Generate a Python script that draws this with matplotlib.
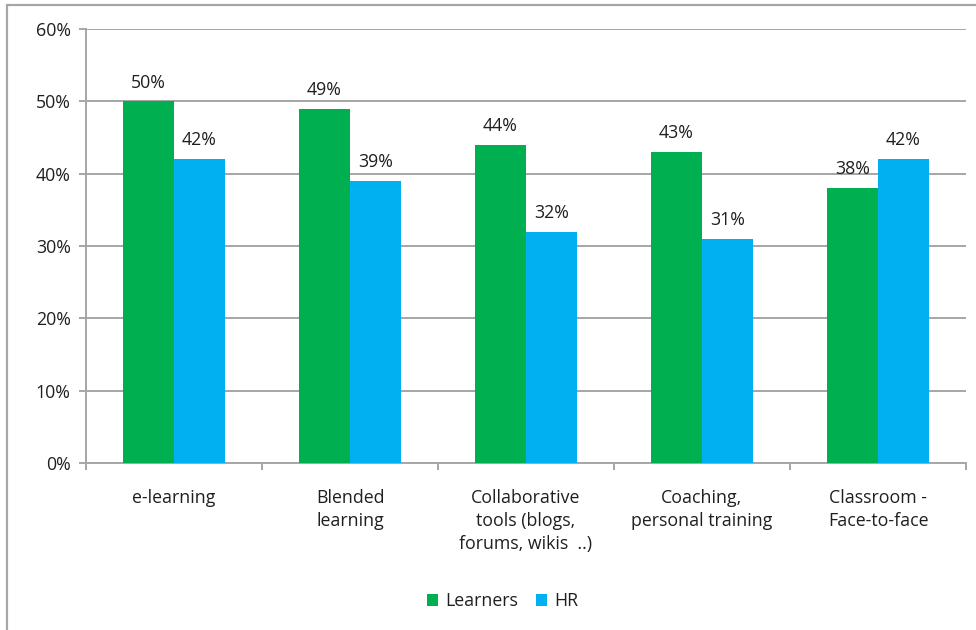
import matplotlib
matplotlib.use('Agg')
import matplotlib.pyplot as plt
from matplotlib.patches import Rectangle
from matplotlib.ticker import FuncFormatter
import numpy as np

categories = ['e-learning', 'Blended\nlearning', 'Collaborative\ntools (blogs,\nforums, wikis  ..)',
              'Coaching,\npersonal training', 'Classroom -\nFace-to-face']
learners = [50, 49, 44, 43, 38]
hr = [42, 39, 32, 31, 42]

GREEN = '#00B050'
BLUE = '#00B0F0'
GRID = '#A6A6A6'
TEXT = '#1F1F1F'

plt.rcParams['font.family'] = ['Open Sans', 'DejaVu Sans']
plt.rcParams['font.size'] = 12.8
plt.rcParams['text.color'] = TEXT
plt.rcParams['xtick.labelcolor'] = TEXT
plt.rcParams['ytick.labelcolor'] = TEXT

fig = plt.figure(figsize=(9.76, 6.3), dpi=100)
ax = fig.add_axes([86 / 976, 1 - 463 / 630, 880 / 976, 434 / 630])

# outer chart border (right and bottom edges fall off the canvas)
fig.patches.append(Rectangle((7 / 976, -0.1), 1.1, 1.1 - 5 / 630, transform=fig.transFigure,
                             fill=False, edgecolor=GRID, lw=1.6))

x = np.arange(len(categories))
w = 0.29
b1 = ax.bar(x - w / 2, learners, w, color=GREEN, label='Learners', zorder=3)
b2 = ax.bar(x + w / 2, hr, w, color=BLUE, label='HR', zorder=3)

for bars, vals in ((b1, learners), (b2, hr)):
    for r, v in zip(bars, vals):
        ax.annotate(f'{v}%', (r.get_x() + r.get_width() / 2, v), xytext=(0, 7),
                    textcoords='offset points', ha='center', va='bottom')

ax.set_ylim(0, 60)
ax.set_xlim(-0.5, len(categories) - 0.5)
ax.set_yticks(range(0, 61, 10))
ax.yaxis.set_major_formatter(FuncFormatter(lambda v, p: f'{int(v)}%'))
ax.grid(axis='y', color=GRID, lw=1.4, zorder=0)

ax.set_xticks(np.arange(-0.5, len(categories), 1.0))
ax.set_xticklabels([])
ax.set_xticks(x, minor=True)
ax.set_xticklabels(categories, minor=True, linespacing=1.33, va='top')
ax.tick_params(axis='x', which='minor', length=0, pad=19)
ax.tick_params(axis='x', which='major', length=5, width=1.4, color=GRID)
ax.tick_params(axis='y', length=5, width=1.4, color=GRID, pad=6)

for s in ('top', 'right'):
    ax.spines[s].set_visible(False)
for s in ('left', 'bottom'):
    ax.spines[s].set_color(GRID)
    ax.spines[s].set_linewidth(1.4)

fig.legend(handles=[b1, b2], loc='center', bbox_to_anchor=(0.515, 1 - 601 / 630), ncol=2,
           frameon=False, handlelength=0.65, handleheight=0.65, handletextpad=0.4,
           columnspacing=1.0)

fig.savefig('out.png', dpi=100)
